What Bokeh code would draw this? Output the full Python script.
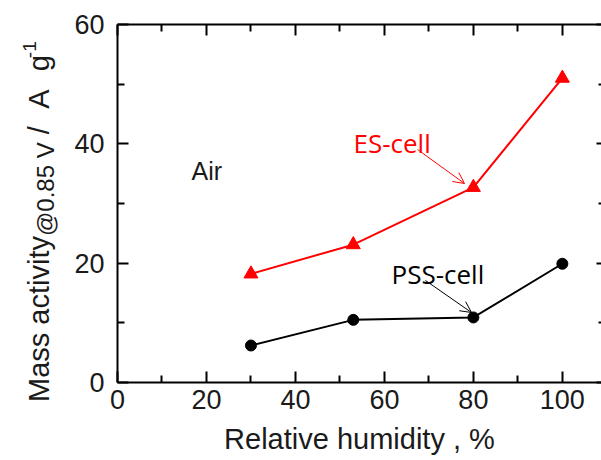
from bokeh.plotting import figure
from bokeh.layouts import row
from bokeh.models import (LinearAxis, FixedTicker, Label, Arrow, OpenHead, Range1d, Div)
from bokeh.embed import file_html
from bokeh.resources import INLINE

# ---- data ----
humidity = [30, 53, 80, 100]
es_cell = [18.2, 23.1, 32.7, 51.0]
pss_cell = [6.2, 10.5, 10.9, 19.9]
x_major = [0, 20, 40, 60, 80, 100]
x_minor = [10, 30, 50, 70, 90]
y_major = [0, 20, 40, 60]
y_minor = [10, 30, 50]

W, H = 601, 460
LW = 60                      # width of the strip holding the y-axis title
L, R, T, B = 117, 601, 24, 382
XMAX = 108.8
YMAX = 60

def px2x(px):
    return (px - L) / (R - L) * XMAX

def py2y(py):
    return (B - py) / (B - T) * YMAX

FONT = "Liberation Sans"
TXT = "#1a1a1a"

# ---- strip with the rotated y-axis title (HTML, with subscript / superscript) ----
ytitle = (
    '<div style="position:relative;width:%dpx;height:%dpx;overflow:visible;">'
    '<div style="position:absolute;left:25px;top:402px;transform-origin:0 0;'
    'transform:rotate(-90deg);white-space:nowrap;font-family:\'Liberation Sans\';'
    'font-size:29px;line-height:1;color:%s;">'
    'Mass activity'
    '<span style="font-size:24px;position:relative;top:5px;">@0.85 V</span>'
    '<span> /</span>'
    '<span style="margin-left:11px;"> A</span>'
    '<span style="margin-left:10px;"> g</span>'
    '<span style="font-size:19px;position:relative;top:-13px;margin-left:-3px;">-1</span>'
    '</div></div>' % (LW, H, TXT)
)
fl = Div(text=ytitle, width=LW, height=H, margin=0)

# ---- main plot ----
p = figure(width=W - LW, height=H, x_range=Range1d(0, XMAX), y_range=Range1d(0, YMAX),
           output_backend="svg", toolbar_location=None,
           min_border_left=L - LW, min_border_right=0, min_border_top=T, min_border_bottom=H - B,
           x_axis_location=None, y_axis_location=None, margin=0)
p.outline_line_color = None
p.xgrid.visible = False
p.ygrid.visible = False

def style(ax, labels=True, tin=11, tmin=7, ticks=None):
    ax.axis_line_width = 2
    ax.axis_line_color = "black"
    ax.major_tick_line_width = 2
    ax.minor_tick_line_width = 2
    ax.major_tick_in = tin
    ax.major_tick_out = 0
    ax.minor_tick_in = tmin
    ax.minor_tick_out = 0
    if labels:
        ax.major_label_text_font = FONT
        ax.major_label_text_font_size = "27px"
        ax.major_label_text_color = TXT
    else:
        ax.major_label_overrides = {t: "" for t in ticks}
        ax.major_label_text_font_size = "1px"
        ax.major_label_standoff = 0

xb = LinearAxis(ticker=FixedTicker(ticks=x_major, minor_ticks=x_minor))
style(xb)
xb.major_label_standoff = 7
xb.axis_label = "Relative humidity , %"
xb.axis_label_text_font = FONT
xb.axis_label_text_font_size = "29px"
xb.axis_label_text_font_style = "normal"
xb.axis_label_text_color = TXT
xb.axis_label_standoff = 11
p.add_layout(xb, "below")

yl = LinearAxis(ticker=FixedTicker(ticks=y_major, minor_ticks=y_minor))
style(yl)
yl.major_label_standoff = 13
p.add_layout(yl, "left")

xt = LinearAxis(ticker=FixedTicker(ticks=x_major, minor_ticks=x_minor))
style(xt, labels=False, ticks=x_major)
p.add_layout(xt, "above")

yr = LinearAxis(ticker=FixedTicker(ticks=y_major, minor_ticks=y_minor))
style(yr, labels=False, tin=5, tmin=3, ticks=y_major)
yr.axis_line_color = None
p.add_layout(yr, "right")

# ---- series ----
p.line(humidity, es_cell, line_color="#ff0000", line_width=2)
p.scatter(humidity, es_cell, marker="triangle", size=14, fill_color="#ff0000", line_color="#ff0000")
p.line(humidity, pss_cell, line_color="black", line_width=2)
p.scatter(humidity, pss_cell, marker="circle", size=11, fill_color="black", line_color="black")

# ---- annotations ----
p.add_layout(Arrow(end=OpenHead(size=11, line_color="#ff0000", line_width=1),
                   x_start=px2x(417), y_start=py2y(149), x_end=px2x(464), y_end=py2y(183),
                   line_color="#ff0000", line_width=1))
p.add_layout(Arrow(end=OpenHead(size=11, line_color="black", line_width=1),
                   x_start=px2x(425), y_start=py2y(280), x_end=px2x(471), y_end=py2y(312),
                   line_color="black", line_width=1))

p.add_layout(Label(x=px2x(353), y=py2y(142), text="ES-cell", text_font="Open Sans",
                   text_font_size="26px", text_color="#ff0000", text_baseline="alphabetic"))
p.add_layout(Label(x=px2x(391), y=py2y(273), text="PSS-cell", text_font="Open Sans",
                   text_font_size="26px", text_color="black", text_baseline="alphabetic"))
p.add_layout(Label(x=px2x(191), y=py2y(170), text="Air", text_font=FONT,
                   text_font_size="25px", text_color=TXT, text_baseline="alphabetic"))

layout = row(fl, p, spacing=0)
open("out.html", "w").write(file_html(layout, INLINE))
